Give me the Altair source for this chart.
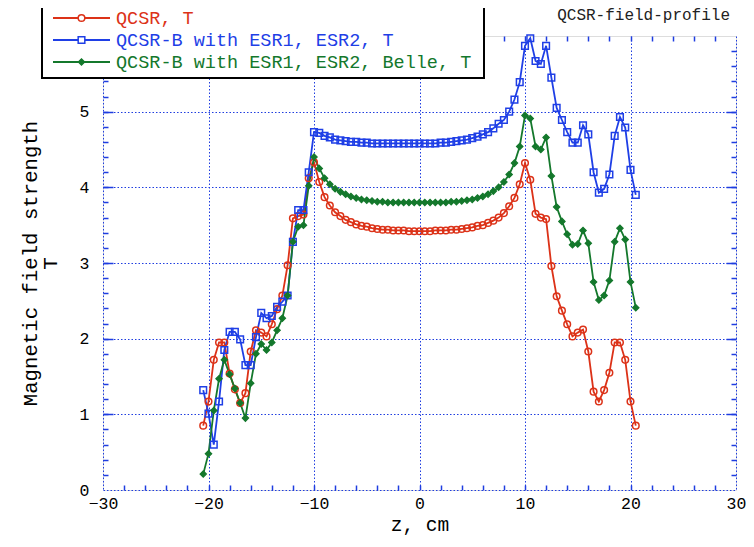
import altair as alt
import pandas as pd

FONT = "Liberation Mono"
AXBLUE = "#1f3de0"
W, H = 633, 454

# ---------------- data ----------------
z_cm = [-20.5, -20.0, -19.5, -19.0, -18.5, -18.0, -17.5, -17.0, -16.5, -16.0,
        -15.5, -15.0, -14.5, -14.0, -13.5, -13.0, -12.5, -12.0, -11.5, -11.0,
        -10.5, -10.0, -9.5, -9.0, -8.5, -8.0, -7.5, -7.0, -6.5, -6.0,
        -5.5, -5.0, -4.5, -4.0, -3.5, -3.0, -2.5, -2.0, -1.5, -1.0,
        -0.5, 0.0, 0.5, 1.0, 1.5, 2.0, 2.5, 3.0, 3.5, 4.0,
        4.5, 5.0, 5.5, 6.0, 6.5, 7.0, 7.5, 8.0, 8.5, 9.0,
        9.5, 10.0, 10.5, 11.0, 11.5, 12.0, 12.5, 13.0, 13.5, 14.0,
        14.5, 15.0, 15.5, 16.0, 16.5, 17.0, 17.5, 18.0, 18.5, 19.0,
        19.5, 20.0, 20.5]

qcsr_T = [0.85, 1.17, 1.72, 1.95, 1.95, 1.54, 1.33, 1.15, 1.28, 1.83,
          2.11, 2.08, 2.03, 2.19, 2.39, 2.57, 2.97, 3.59, 3.62, 3.64,
          4.12, 4.33, 4.07, 3.87, 3.76, 3.67, 3.62, 3.57, 3.54, 3.51,
          3.49, 3.48, 3.46, 3.45, 3.44, 3.44, 3.43, 3.43, 3.43, 3.42,
          3.42, 3.42, 3.42, 3.42, 3.43, 3.43, 3.43, 3.44, 3.44, 3.45,
          3.46, 3.47, 3.49, 3.50, 3.53, 3.56, 3.60, 3.66, 3.75, 3.86,
          4.04, 4.32, 4.10, 3.65, 3.60, 3.58, 2.96, 2.56, 2.37, 2.19,
          2.03, 2.08, 2.12, 1.83, 1.30, 1.17, 1.32, 1.55, 1.95, 1.95,
          1.72, 1.17, 0.85]

qcsrb_esr_T = [1.32, 1.01, 0.60, 1.17, 1.85, 2.09, 2.09, 1.99, 1.65, 1.65,
               2.02, 2.34, 2.27, 2.30, 2.42, 2.49, 2.57, 3.28, 3.70, 3.70,
               4.20, 4.73, 4.72, 4.68, 4.66, 4.63, 4.62, 4.61, 4.60, 4.60,
               4.59, 4.59, 4.58, 4.58, 4.58, 4.58, 4.58, 4.58, 4.58, 4.58,
               4.58, 4.58, 4.58, 4.58, 4.58, 4.59, 4.59, 4.60, 4.61, 4.62,
               4.63, 4.65, 4.67, 4.70, 4.73, 4.78, 4.84, 4.89, 5.00, 5.16,
               5.39, 5.87, 5.97, 5.67, 5.63, 5.87, 5.45, 5.05, 4.89, 4.73,
               4.59, 4.59, 4.82, 4.70, 4.20, 3.93, 3.98, 4.17, 4.68, 4.93,
               4.79, 4.23, 3.90]

qcsrb_esr_belle_T = [0.21, 0.48, 1.05, 1.47, 1.72, 1.53, 1.34, 1.15, 0.95, 1.41,
                     1.80, 1.93, 1.85, 1.95, 2.11, 2.27, 2.57, 3.28, 3.48, 3.50,
                     4.02, 4.40, 4.25, 4.12, 4.04, 3.98, 3.94, 3.91, 3.88, 3.86,
                     3.84, 3.83, 3.82, 3.81, 3.81, 3.80, 3.80, 3.80, 3.80, 3.80,
                     3.80, 3.80, 3.80, 3.80, 3.80, 3.80, 3.80, 3.81, 3.81, 3.82,
                     3.83, 3.84, 3.86, 3.88, 3.91, 3.95, 4.00, 4.07, 4.17, 4.32,
                     4.54, 4.95, 4.91, 4.54, 4.50, 4.66, 4.15, 3.74, 3.55, 3.38,
                     3.24, 3.25, 3.43, 3.26, 2.75, 2.51, 2.57, 2.77, 3.28, 3.46,
                     3.31, 2.75, 2.41]

series_names = ["QCSR, T", "QCSR-B with ESR1, ESR2, T",
                "QCSR-B with ESR1, ESR2, Belle, T"]
series_colors = ["#dc3218", "#1f3fe6", "#14782c"]
series_shapes = ["circle", "square", "diamond"]

x_label_ticks = [-30, -20, -10, 0, 10, 20, 30]
x_minor_ticks = [-28, -26, -24, -22, -20, -18, -16, -14, -12, -10, -8, -6, -4, -2,
                 0, 2, 4, 6, 8, 10, 12, 14, 16, 18, 20, 22, 24, 26, 28]
y_label_ticks = [0, 1, 2, 3, 4, 5]
y_minor_ticks = [0.2, 0.4, 0.6, 0.8, 1.0, 1.2, 1.4, 1.6, 1.8, 2.0, 2.2, 2.4, 2.6, 2.8,
                 3.0, 3.2, 3.4, 3.6, 3.8, 4.0, 4.2, 4.4, 4.6, 4.8, 5.0, 5.2, 5.4, 5.6, 5.8]
y_major_inner = [1, 2, 3, 4, 5]
title_text = ["QCSR-field-profile"]

rows = []
for name, vals in zip(series_names, [qcsr_T, qcsrb_esr_T, qcsrb_esr_belle_T]):
    for zz, v in zip(z_cm, vals):
        rows.append({"z": zz, "B": v, "series": name})
df = pd.DataFrame(rows)

# ---------------- scales / axes ----------------
xs = alt.Scale(domain=[-30, 30], nice=False, zero=False)
ys = alt.Scale(domain=[0, 6], nice=False, zero=False)

x_main = alt.Axis(orient="bottom", values=x_label_ticks, title="z, cm",
                  grid=True, gridColor=AXBLUE, gridDash=[1.5, 2], gridWidth=1,
                  domain=False, ticks=False, tickSize=0,
                  labelFont=FONT, labelFontSize=16.5, labelColor="black",
                  labelPadding=5, labelFlush=False, labelOverlap=False,
                  titleFont=FONT, titleFontSize=19.5, titleFontWeight="normal",
                  titleColor="black", titlePadding=4)
y_main = alt.Axis(orient="left", values=y_label_ticks,
                  title=["Magnetic field strength", "T"], titleLineHeight=20,
                  grid=True, gridColor=AXBLUE, gridDash=[1.5, 2], gridWidth=1,
                  domain=False, ticks=False, tickSize=0,
                  labelFont=FONT, labelFontSize=16.5, labelColor="black",
                  labelPadding=14, labelFlush=False, labelOverlap=False,
                  titleFont=FONT, titleFontSize=20.7, titleFontWeight="normal",
                  titleColor="black", titlePadding=19)


def tick_axis(orient, offset, values, size):
    return alt.Axis(orient=orient, offset=offset, values=values, labels=False,
                    domain=False, grid=False, ticks=True, tickSize=size,
                    tickColor=AXBLUE, tickWidth=1.5, title=None)


def xenc(axis):
    return alt.X("z:Q", scale=xs, axis=axis)


def yenc(axis):
    return alt.Y("B:Q", scale=ys, axis=axis)


# ---------------- data layers ----------------
lines = alt.Chart(df).mark_line(strokeWidth=1.8).encode(
    x=xenc(x_main),
    y=yenc(y_main),
    color=alt.Color("series:N", scale=alt.Scale(domain=series_names, range=series_colors),
                    legend=None),
)

red_pts = alt.Chart(df).transform_filter(alt.datum.series == series_names[0]).mark_point(
    shape="circle", filled=False, size=44, color=series_colors[0], strokeWidth=1.5, opacity=1
).encode(
    x=xenc(tick_axis("top", -H, x_minor_ticks, 5)),
    y=yenc(tick_axis("right", -W, y_minor_ticks, 5)),
)

blue_pts = alt.Chart(df).transform_filter(alt.datum.series == series_names[1]).mark_point(
    shape="square", filled=False, size=44, color=series_colors[1], strokeWidth=1.5, opacity=1
).encode(
    x=xenc(tick_axis("bottom", -H, x_minor_ticks, 5)),
    y=yenc(tick_axis("left", -W, y_minor_ticks, 5)),
)

green_fill = alt.Chart(df).transform_filter(alt.datum.series == series_names[2]).mark_point(
    shape="diamond", filled=True, size=40, color=series_colors[2], opacity=1
).encode(
    x=xenc(None),
    y=yenc(tick_axis("right", -W, y_major_inner, 10)),
)

green_edge = alt.Chart(df).transform_filter(alt.datum.series == series_names[2]).mark_point(
    shape="diamond", filled=False, size=40, color=series_colors[2], strokeWidth=1.2, opacity=1
).encode(
    x=xenc(None),
    y=yenc(tick_axis("left", -W, y_major_inner, 10)),
)

# ---------------- legend (drawn box with line+marker samples) ----------------
legend_rows_y = [-18, 4, 26]
legend_box = alt.Chart(pd.DataFrame({"k": [0]})).mark_rect(
    fill="white", stroke="black", strokeWidth=2
).encode(x=alt.value(-61), x2=alt.value(381), y=alt.value(-29), y2=alt.value(42))

legend_layers = [legend_box]
for name, col, shp, ly in zip(series_names, series_colors, series_shapes, legend_rows_y):
    ldf = pd.DataFrame({"label": [name]})
    legend_layers.append(
        alt.Chart(ldf).mark_rule(color=col, strokeWidth=1.8).encode(
            x=alt.value(-50), x2=alt.value(7), y=alt.value(ly))
    )
    if shp == "diamond":
        pt = alt.Chart(ldf).mark_point(shape=shp, filled=True, size=40, color=col,
                                       stroke=col, strokeWidth=1.2, opacity=1)
    else:
        pt = alt.Chart(ldf).mark_point(shape=shp, filled=False, size=44, color=col,
                                       fill="white", strokeWidth=1.5, opacity=1)
    legend_layers.append(pt.encode(x=alt.value(-21.5), y=alt.value(ly)))
    legend_layers.append(
        alt.Chart(ldf).mark_text(align="left", baseline="middle", font=FONT,
                                 fontSize=18.5, color=col).encode(
            x=alt.value(13), y=alt.value(ly), text="label:N")
    )

title_layer = alt.Chart(pd.DataFrame({"t": title_text})).mark_text(
    align="right", baseline="alphabetic", font=FONT, fontSize=16, color="#222222"
).encode(
    x=alt.value(W - 6),
    y=alt.value(-16),
    text="t:N",
)

chart = alt.layer(lines, red_pts, blue_pts, green_fill, green_edge,
                  *legend_layers, title_layer).resolve_axis(
    x="independent", y="independent"
).properties(
    width=W, height=H,
    autosize=alt.AutoSizeParams(type="none"),
    padding={"left": 95, "top": 28, "right": 10, "bottom": 49},
).configure_view(
    stroke=AXBLUE, strokeWidth=2
).configure(background="white")

chart.save("out.html", embed_options={"renderer": "svg", "actions": False})
